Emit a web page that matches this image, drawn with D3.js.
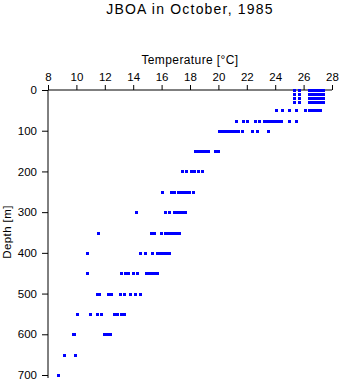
<!DOCTYPE html>
<html><head><meta charset="utf-8">
<script src="https://cdn.jsdelivr.net/npm/d3@7"></script>
<style>body{margin:0;background:#fff}svg{display:block}text{font-family:"Liberation Sans",Arial,sans-serif}</style>
</head><body><svg id="c" width="341" height="384"></svg>
<script>
const depths = [0, 10, 20, 30, 50, 75, 100, 150, 200, 250, 300, 350, 400, 450, 500, 550, 600, 650, 700];
const temps = [
  [25.35, 25.7, 26.4, 26.6, 26.8, 27.0, 27.2, 27.35],
  [25.35, 25.7, 26.4, 26.6, 26.8, 27.0, 27.2, 27.35],
  [25.35, 25.7, 26.4, 26.6, 26.8, 27.0, 27.2, 27.35],
  [25.35, 25.7, 26.4, 26.6, 26.8, 27.0, 27.2, 27.35],
  [24.05, 24.45, 24.95, 25.45, 26.1, 26.35, 26.55, 26.75, 26.95, 27.15],
  [21.25, 21.7, 22.0, 22.6, 22.85, 23.2, 23.4, 23.65, 23.8, 24.0, 24.2, 24.4, 24.95, 25.45],
  [20.05, 20.25, 20.45, 20.65, 20.85, 21.0, 21.2, 21.4, 21.65, 22.4, 22.7, 23.5],
  [18.35, 18.55, 18.75, 18.95, 19.15, 19.3, 19.75, 19.95],
  [17.45, 17.75, 18.05, 18.3, 18.55, 18.85],
  [16.0, 16.65, 16.85, 17.15, 17.35, 17.55, 17.75, 17.95, 18.2],
  [14.2, 16.25, 16.5, 16.85, 17.05, 17.25, 17.45, 17.65],
  [11.5, 15.25, 15.45, 15.95, 16.25, 16.45, 16.65, 16.85, 17.05, 17.2],
  [10.75, 14.5, 14.85, 15.35, 15.7, 15.9, 16.1, 16.3, 16.5],
  [10.75, 13.15, 13.4, 13.6, 14.0, 14.3, 14.9, 15.1, 15.3, 15.5, 15.7],
  [11.45, 11.6, 12.2, 12.45, 13.05, 13.35, 13.8, 14.1, 14.5],
  [10.05, 10.95, 11.45, 11.7, 12.65, 12.85, 13.15, 13.35],
  [9.75, 9.85, 11.95, 12.15, 12.4],
  [9.1, 9.9],
  [8.7]
];
const xTicks = [8, 10, 12, 14, 16, 18, 20, 22, 24, 26, 28];
const yTicks = [0, 100, 200, 300, 400, 500, 600, 700];
const titleText = "JBOA in October, 1985";
const xLabel = "Temperature [°C]";
const yLabel = "Depth [m]";

const points = [];
depths.forEach((d, i) => temps[i].forEach(t => points.push({d, t})));

const svg = d3.select("#c");
const x = d3.scaleLinear().domain([8, 28]).range([48, 332]);
const y = d3.scaleLinear().domain([0, 700]).range([90, 375]);

svg.append("text").attr("x", 190).attr("y", 14).attr("text-anchor", "middle")
  .attr("font-size", 14).attr("letter-spacing", 1.2).text(titleText);

const gx = svg.append("g").attr("transform", "translate(0,90)")
  .call(d3.axisTop(x).tickValues(xTicks).tickSize(5).tickPadding(4).tickFormat(d3.format("d")));
const gy = svg.append("g").attr("transform", "translate(48,0)")
  .call(d3.axisLeft(y).tickValues(yTicks).tickSize(6).tickPadding(5).tickFormat(d3.format("d")));
[gx, gy].forEach(g => {
  g.selectAll("text").attr("font-size", 11.5).attr("fill", "#000").style("font-family", '"Liberation Sans",Arial,sans-serif');
  g.selectAll("line").attr("stroke", "#000");
  g.select(".domain").attr("stroke", "#000");
});
gx.select(".domain").attr("d", `M${x(8)},0H${x(28)}`);
gy.select(".domain").attr("d", `M0,${y(0)}V378`);

svg.append("text").attr("x", 190).attr("y", 64).attr("text-anchor", "middle")
  .attr("font-size", 12).attr("letter-spacing", 0.4).text(xLabel);
svg.append("text").attr("transform", "translate(11,232) rotate(-90)").attr("text-anchor", "middle")
  .attr("font-size", 11.5).attr("letter-spacing", 0.4).text(yLabel);

svg.append("g").selectAll("rect").data(points).join("rect")
  .attr("x", p => Math.round(x(p.t)) - 1.5)
  .attr("y", p => Math.round(y(p.d)) - 1)
  .attr("width", 3).attr("height", 3)
  .attr("fill", "#0000ff").attr("shape-rendering", "crispEdges");
</script></body></html>
